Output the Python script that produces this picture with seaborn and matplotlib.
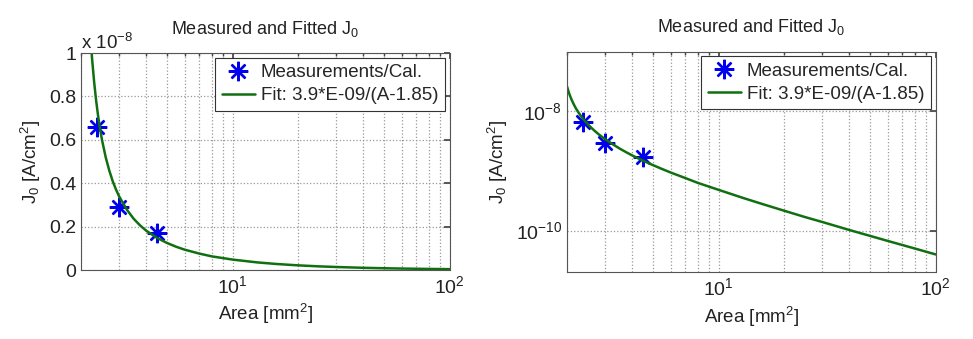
import numpy as np
import pandas as pd
import matplotlib
matplotlib.use("Agg")
import matplotlib.pyplot as plt
import matplotlib.ticker as mticker
import seaborn as sns

# measured points
meas_area = [2.38, 3.0, 4.5]
meas_j0 = [6.6e-9, 2.9e-9, 1.7e-9]

# fitted curve, points
fit_area = [2.0, 2.05, 2.1, 2.15, 2.2, 2.25, 2.3, 2.35, 2.4, 2.45, 2.5, 2.6, 2.7, 2.8,
            2.9, 3.0, 3.25, 3.5, 3.75, 4.0, 4.5, 5, 5.5, 6, 7, 8, 10, 13, 16, 20, 25,
            30, 40, 50, 60, 80, 100]
fit_j0 = [2.6e-8, 1.95e-8, 1.56e-8, 1.3e-8, 1.11e-8, 9.75e-9, 8.67e-9, 7.8e-9, 7.09e-9,
          6.5e-9, 6.0e-9, 5.2e-9, 4.59e-9, 4.1e-9, 3.71e-9, 3.39e-9, 2.79e-9, 2.36e-9,
          2.05e-9, 1.81e-9, 1.47e-9, 1.24e-9, 1.07e-9, 9.4e-10, 7.6e-10, 6.3e-10,
          4.8e-10, 3.5e-10, 2.76e-10, 2.15e-10, 1.68e-10, 1.39e-10, 1.02e-10, 8.1e-11,
          6.7e-11, 5.0e-11, 3.97e-11]

meas_label = "Measurements/Cal."
fit_label = "Fit: 3.9*E-09/(A-1.85)"
title = "Measured and Fitted J$_0$"

meas = pd.DataFrame({"area": meas_area, "j0": meas_j0})
fit = pd.DataFrame({"area": fit_area, "j0": fit_j0})

sns.set_theme(style="white")
plt.rcParams["font.family"] = ["Liberation Sans", "DejaVu Sans"]
plt.rcParams["mathtext.fontset"] = "custom"
plt.rcParams["mathtext.rm"] = "Liberation Sans"
plt.rcParams["mathtext.it"] = "Liberation Sans"
plt.rcParams["mathtext.default"] = "regular"

txt = "#222222"
fs = 13.5

fig = plt.figure(figsize=(9.73, 3.39), dpi=100)
ax1 = fig.add_axes([0.0832, 0.2035, 0.379, 0.640])
ax2 = fig.add_axes([0.5827, 0.197, 0.379, 0.651])

for ax in (ax1, ax2):
    sns.lineplot(data=meas, x="area", y="j0", ax=ax, marker=(8, 2, 0), linestyle="",
                 markersize=14, markeredgewidth=1.7, markeredgecolor="#0000ee",
                 color="#0000ee", label=meas_label)
    sns.lineplot(data=fit, x="area", y="j0", ax=ax, color="#107010", linewidth=1.8,
                 label=fit_label)
    ax.set_xscale("log")
    ax.set_xlim(2, 100)
    ax.xaxis.set_major_locator(mticker.FixedLocator([10, 100]))
    ax.xaxis.set_minor_locator(mticker.LogLocator(base=10, subs=np.arange(2, 10)))
    ax.xaxis.set_minor_formatter(mticker.NullFormatter())
    ax.grid(True, which="both", axis="x", color="#999999", linestyle=":", linewidth=0.9)
    ax.grid(True, which="major", axis="y", color="#999999", linestyle=":", linewidth=0.9)
    ax.tick_params(which="both", direction="in", top=True, right=True, colors="#444444",
                   labelcolor=txt, labelsize=14)
    ax.tick_params(which="major", length=4)
    ax.tick_params(which="minor", length=2)
    for s in ax.spines.values():
        s.set_color("#555555")
        s.set_linewidth(0.8)
    ax.set_xlabel("Area [mm$^2$]", fontsize=fs, color=txt, labelpad=4)
    ax.set_ylabel("J$_0$ [A/cm$^2$]", fontsize=fs, color=txt, labelpad=4)
    ax.set_title(title, fontsize=13, color=txt, pad=14)
    leg = ax.legend(loc="upper right", fontsize=fs, frameon=True, fancybox=False,
                    framealpha=1, edgecolor="#333333", borderaxespad=0.25,
                    handlelength=1.8, handletextpad=0.3, borderpad=0.35, labelspacing=0.3)
    leg.get_frame().set_linewidth(0.8)

# left: linear y with MATLAB-style exponent
ax1.set_ylim(0, 1e-8)
ax1.yaxis.set_major_locator(mticker.FixedLocator(np.arange(0, 1.01, 0.2) * 1e-8))
ax1.yaxis.set_major_formatter(mticker.FuncFormatter(lambda v, p: f"{v / 1e-8:g}"))
ax1.text(0.0, 1.0, "x 10$^{-8}$", transform=ax1.transAxes, ha="left", va="bottom",
         fontsize=fs, color=txt)

# right: log y
ax2.set_yscale("log")
ax2.set_ylim(2e-11, 1e-7)
ax2.yaxis.set_major_locator(mticker.FixedLocator([1e-10, 1e-8]))
ax2.yaxis.set_minor_locator(mticker.NullLocator())
ax2.yaxis.set_major_formatter(mticker.LogFormatterSciNotation())

plt.savefig("out.png", dpi=100, facecolor="white")
